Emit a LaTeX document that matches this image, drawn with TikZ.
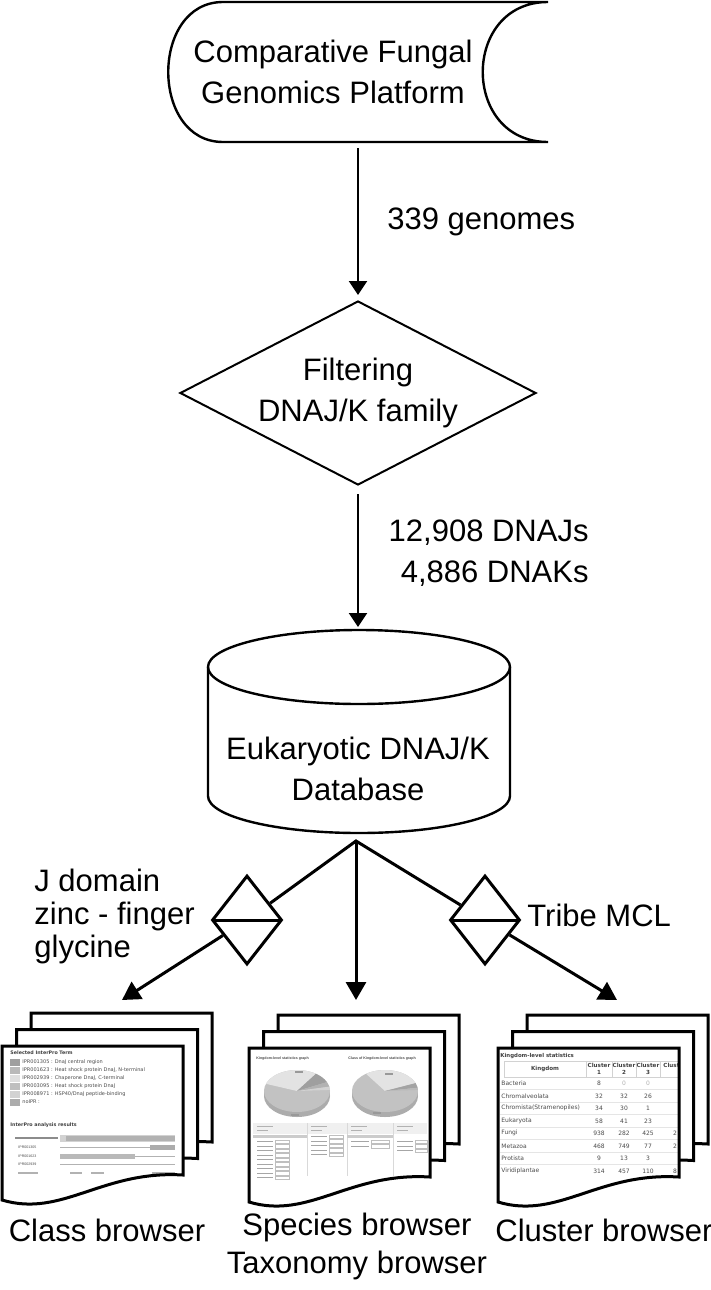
\documentclass[tikz,border=0pt]{standalone}
\usepackage{fontspec}
\setmainfont{Liberation Sans}
\newfontfamily\webfont{DejaVu Sans}
\usetikzlibrary{arrows.meta, shapes.geometric}

% one sheet of a stack, top left corner at (0,0)
\newcommand{\pagepath}{(0,0) -- (181,0) -- (181,129) .. controls (100,124) and (60,172) .. (0,154) -- cycle}
\newcommand{\backpages}[2]{\foreach \k in {2,1}{\filldraw[page, shift={(#1+14.5*\k,#2-16.5*\k)}] \pagepath;}}
\newcommand{\piebase}[1]{%
	\fill[gray!65] ([yshift=-2.5pt]#1) ellipse [x radius=16.5pt, y radius=10.5pt];
	\fill[gray!65] ([xshift=-16.5pt]#1) rectangle ([xshift=16.5pt, yshift=-2.5pt]#1);
	\fill[gray!48] (#1) ellipse [x radius=16.5pt, y radius=10.5pt];}
\newcommand{\slice}[4]{\fill[#4] (#1) -- ++(#2:16.5pt and 10.5pt) arc [start angle=#2, end angle=#3, x radius=16.5pt, y radius=10.5pt] -- cycle;}

\begin{document}
\begin{tikzpicture}[x=0.5pt, y=-0.5pt]
	\tikzstyle{every node} = [font=\fontsize{15.5}{20.5}\selectfont, inner sep=0pt, align=center]
	\tikzstyle{arr} = [line width=1pt, -{Triangle[width=9pt, length=7pt]}]
	\tikzstyle{branch} = [line width=1.5pt, -{Triangle[width=10pt, length=9pt]}]
	\tikzstyle{decision} = [draw, line width=1pt, diamond, aspect=2, minimum width=178pt, minimum height=92pt]
	\tikzstyle{collate} = [draw, fill=white, line width=1.5pt, diamond, minimum width=35pt, minimum height=44.5pt]
	\tikzstyle{page} = [draw, fill=white, line width=1.5pt]
	\tikzstyle{tiny} = [font=\webfont\fontsize{2.5}{3}\selectfont, text=black!70, anchor=west, align=left]
	\tikzstyle{tinyb} = [font=\webfont\fontsize{2.4}{3}\selectfont\bfseries, text=black!75, anchor=west, align=left]
	\tikzstyle{micro} = [font=\fontsize{1.8}{2.2}\selectfont, text=black!70, anchor=west]
	\tikzstyle{cell} = [font=\webfont\fontsize{3}{3.5}\selectfont, text=black!70]
	\tikzstyle{cellb} = [font=\webfont\fontsize{2.8}{3.6}\selectfont\bfseries, text=black!75]
	\useasboundingbox (0,0) rectangle (711,1290);

	% stored data
	\draw[line width=1.2pt] (223,2) -- (548,2) .. controls (461,2) and (461,142) .. (548,142) -- (223,142) .. controls (150,142) and (150,2) .. (223,2) -- cycle;
	\node (cfgp) at (333,72) {Comparative Fungal\\Genomics Platform};
	\coordinate (cfgp-out) at (358,148);
	\node[decision] (filt) at (358,393) {Filtering\\DNAJ/K family};
	\draw[arr] (cfgp-out) -- ([yshift=2.5pt]filt.north);
	\node[anchor=west] (genomes) at (387,222) {339 genomes};

	% database
	\draw[line width=1.2pt] (208,667) -- (208,796) arc [start angle=180, end angle=360, x radius=75.5pt, y radius=18.5pt] -- (510,667);
	\draw[line width=1.2pt] (359,667) ellipse [x radius=75.5pt, y radius=18.5pt];
	\node (db) at (358,769) {Eukaryotic DNAJ/K\\Database};
	\coordinate (db-in) at (358,627);
	\draw[arr] ([yshift=-4pt]filt.south) -- (db-in);
	\node[anchor=east, align=right] (counts) at (589,553) {12,908 DNAJs\\4,886 DNAKs};

	% branches
	\coordinate (split) at (356,841);
	\node[collate] (coll1) at (247,920) {};
	\node[collate] (coll2) at (485,920) {};
	\draw[line width=1.5pt, shorten <=1pt, shorten >=1pt] (coll1.west) -- (coll1.east);
	\draw[line width=1.5pt, shorten <=1pt, shorten >=1pt] (coll2.west) -- (coll2.east);
	\coordinate (class-in) at (122,1000);
	\coordinate (species-in) at (356,1000);
	\coordinate (cluster-in) at (617,1000);
	\draw[line width=1.5pt] (coll1) -- (split) -- (coll2);
	\draw[branch] (coll1) -- (class-in);
	\draw[branch] (split) -- (species-in);
	\draw[branch] (coll2) -- (cluster-in);
	\node[anchor=west, align=left, font=\fontsize{15.5}{16.5}\selectfont] (motifs) at (34,916) {J domain\\zinc - finger\\glycine};
	\node[anchor=west] (tribe) at (527,915) {Tribe MCL};

	% class browser
	\backpages{2}{1046}
	\begin{scope}[shift={(2,1046)}]
		\fill[white] \pagepath;
		\begin{scope}
			\clip \pagepath;
			\node[tinyb] at (8,7) {Selected InterPro Term};
			\foreach \y/\c/\t in {16/75/{IPR001305 : DnaJ central region}, 24/55/{IPR001623 : Heat shock protein DnaJ, N-terminal}, 32/25/{IPR002939 : Chaperone DnaJ, C-terminal}, 40/50/{IPR003095 : Heat shock protein DnaJ}, 48/35/{IPR008971 : HSP40/DnaJ peptide-binding}, 56/65/{noIPR :}}
				{\fill[gray!\c] (8,\y-3.5) rectangle (18,\y+3.5); \node[tiny] at (20,\y) {\t};}
			\node[tinyb] at (8,79) {InterPro analysis results};
			\fill[black!45] (13,91) rectangle (56,93);
			\fill[gray!35] (58,88.5) rectangle (173,95.5);
			\fill[gray!60] (64,89.5) rectangle (173,94.5);
			\foreach \y/\t in {101/IPR001305, 110/IPR001623, 118/IPR002939}
				{\node[micro] at (16,\y) {\t}; \draw[gray!60, line width=0.4pt] (58,\y) -- (173,\y);}
			\fill[gray!65] (148,98.5) rectangle (173,103.5);
			\fill[gray!55] (58,107.5) rectangle (133,112.5);
			\foreach \a/\b in {16/36, 68/80, 89/102, 150/173} \fill[gray!60] (\a,126) rectangle (\b,127.5);
		\end{scope}
		\draw[page, fill=none] \pagepath;
	\end{scope}

	% species browser
	\backpages{249}{1048}
	\begin{scope}[shift={(249,1048)}]
		\fill[white] \pagepath;
		\begin{scope}
			\clip \pagepath;
			\node[micro, font=\fontsize{1.8}{2.2}\selectfont\bfseries] at (7,11) {Kingdom-level statistics graph};
			\node[micro, font=\fontsize{1.8}{2.2}\selectfont\bfseries] at (99,11) {Class of Kingdom-level statistics graph};
			\piebase{48,43}
			\slice{48,43}{160}{55}{gray!22}
			\slice{48,43}{55}{25}{gray!75}
			\slice{48,43}{25}{12}{gray!60}
			\slice{48,43}{12}{3}{gray!35}
			\piebase{136,43}
			\slice{136,43}{125}{22}{gray!22}
			\slice{136,43}{22}{9}{gray!72}
			\slice{136,43}{9}{3}{gray!55}
			\foreach \a/\b in {46/23, 42/66, 136/25, 124/64} \fill[black!40] (\a,\b) rectangle (\a+8,\b+1.5);
			\fill[gray!12] (4,75) rectangle (178,86);
			\foreach \x in {58,98,144} \draw[gray!30, line width=0.3pt] (\x,75) -- (\x,128);
			\foreach \x in {8,62,102,148} {\fill[black!30] (\x,78) rectangle (\x+16,79.2); \fill[black!30] (\x,81.5) rectangle (\x+11,82.7);}
			\fill[gray!40] (4,87) rectangle (58,90);
			\fill[gray!40] (98,87) rectangle (144,90);
			\foreach \i in {0,...,8} {\fill[black!35] (8,93+4.5*\i) rectangle (24,94.2+4.5*\i); \draw[gray!50, line width=0.2pt] (26,92+4.5*\i) rectangle (40,95.5+4.5*\i);}
			\foreach \i in {0,...,4} {\fill[black!35] (62,88+4.5*\i) rectangle (78,89.2+4.5*\i); \draw[gray!50, line width=0.2pt] (80,87+4.5*\i) rectangle (94,90.5+4.5*\i);}
			\foreach \i in {0,1} {\fill[black!35] (102,93+4.5*\i) rectangle (120,94.2+4.5*\i); \draw[gray!50, line width=0.2pt] (122,92+4.5*\i) rectangle (140,95.5+4.5*\i);}
			\foreach \i in {0,...,2} {\fill[black!35] (148,93+4.5*\i) rectangle (164,94.2+4.5*\i); \draw[gray!50, line width=0.2pt] (166,92+4.5*\i) rectangle (178,95.5+4.5*\i);}
		\end{scope}
		\draw[page, fill=none] \pagepath;
	\end{scope}

	% cluster browser
	\backpages{498}{1048}
	\begin{scope}[shift={(498,1048)}]
		\fill[white] \pagepath;
		\begin{scope}
			\clip \pagepath;
			\node[tinyb, font=\webfont\fontsize{2.7}{3.2}\selectfont\bfseries] at (2,8) {Kingdom-level statistics};
			\draw[gray!35, line width=0.3pt] (6,13) rectangle (200,29);
			\foreach \x in {88,114,138,162} \draw[gray!35, line width=0.3pt] (\x,13) -- (\x,29);
			\node[cellb] at (47,21) {Kingdom};
			\foreach \x/\n in {101/1, 126/2, 150/3} \node[cellb] at (\x,21) {Cluster\\\n};
			\node[cellb, anchor=west] at (165,17.5) {Cluster};
			\foreach \y in {41.5,54,66.5,79,91.5,104,116.5} \draw[gray!20, line width=0.3pt] (2,\y) -- (181,\y);
			\node[cell, anchor=west] at (3,35) {Bacteria};
			\node[cell] at (101,35) {8};
			\node[cell, text=black!30] at (126,35) {0};
			\node[cell, text=black!30] at (150,35) {0};
			\foreach \y/\n/\a/\b/\c/\d in {48/Chromalveolata/32/32/26/{}, 60/Chromista(Stramenopiles)/34/30/1/{}, 73/Eukaryota/58/41/23/{}, 85/Fungi/938/282/425/2, 98/Metazoa/468/749/77/2, 110/Protista/9/13/3/{}, 123/Viridiplantae/314/457/110/8}
				{\node[cell, anchor=west] at (3,\y) {\n};
				\node[cell] at (101,\y) {\a}; \node[cell] at (126,\y) {\b};
				\node[cell] at (150,\y) {\c}; \node[cell] at (177,\y) {\d};}
		\end{scope}
		\draw[page, fill=none] \pagepath;
	\end{scope}

	\node (classlbl) at (107,1230) {Class browser};
	\node[font=\fontsize{15.5}{19}\selectfont] (specieslbl) at (357,1246) {Species browser\\Taxonomy browser};
	\node (clusterlbl) at (604,1230) {Cluster browser};
\end{tikzpicture}
\end{document}
